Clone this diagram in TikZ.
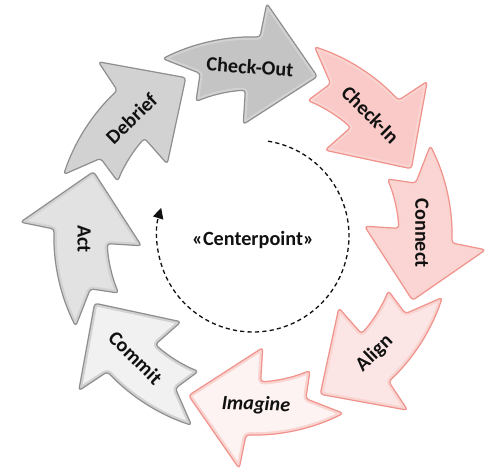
\documentclass[tikz,border=0pt]{standalone}
\usepackage{fontspec}
\setmainfont{Carlito}
\usetikzlibrary{arrows.meta}
\definecolor{grayA}{HTML}{C4C4C4}
\definecolor{grayB}{HTML}{D2D2D2}
\definecolor{grayC}{HTML}{E2E2E2}
\definecolor{grayD}{HTML}{F1F1F1}
\definecolor{grayedge}{HTML}{8F8F8F}
\definecolor{pinkA}{HTML}{F9CAC7}
\definecolor{pinkB}{HTML}{FAD5D3}
\definecolor{pinkC}{HTML}{FCE6E5}
\definecolor{pinkD}{HTML}{FDF3F2}
\definecolor{pinkedge}{HTML}{F0938C}
\definecolor{ink}{HTML}{111111}

% one curved block of the cycle, tip at angle #1
\newcommand{\cyclearrow}[1]{(#1:172) -- (#1+18.6:233) -- (#1+20:199)
  arc[start angle=#1+20,end angle=#1+49,radius=199] -- (#1+40:171)
  -- (#1+45:146) arc[start angle=#1+45,end angle=#1+25,radius=146]
  -- (#1+27:112) -- cycle}

\begin{document}
\begin{tikzpicture}[
  x=.02cm,y=.02cm,
  line join=round,
  font=\bfseries\fontsize{11.5}{13}\selectfont,
  block/.style={rounded corners=1.8pt},
  label/.style={text=ink,inner sep=0pt},
  loopline/.style={-{Triangle[length=6pt,width=6pt]},dashed,
                   dash pattern=on 2.4pt off 1.8pt,line width=.75pt,draw=ink}
]
\useasboundingbox (-253,-236) rectangle (241,236);
\coordinate (ring) at (0,0);

\foreach \t/\fillc/\edgec/\txt/\rot [count=\i] in
  {68/grayA/grayedge/Check-Out/-4,
   23/pinkA/pinkedge/Check-In/-45,
   -22/pinkB/pinkedge/Connect/-90,
   -67/pinkC/pinkedge/Align/44,
   -112/pinkD/pinkedge/\itshape Imagine/-2,
   -157/grayD/grayedge/Commit/-45,
   158/grayC/grayedge/Act/-90,
   113/grayB/grayedge/Debrief/44}{
  \fill[block,\fillc] \cyclearrow{\t};
  \begin{scope}
    \clip[block] \cyclearrow{\t};
    \draw[block,\edgec!40,line width=3.2pt] \cyclearrow{\t};
  \end{scope}
  \draw[block,\edgec,line width=.7pt] \cyclearrow{\t};
  \node[label,rotate=\rot] (stage\i) at (\t+23:169) {\txt};
}

\node[label] (hub) at (0,-4) {«Centerpoint»};
\draw[loopline] ([shift={(81:96)}]ring) arc[start angle=81,end angle=-197,radius=96];
\end{tikzpicture}
\end{document}
